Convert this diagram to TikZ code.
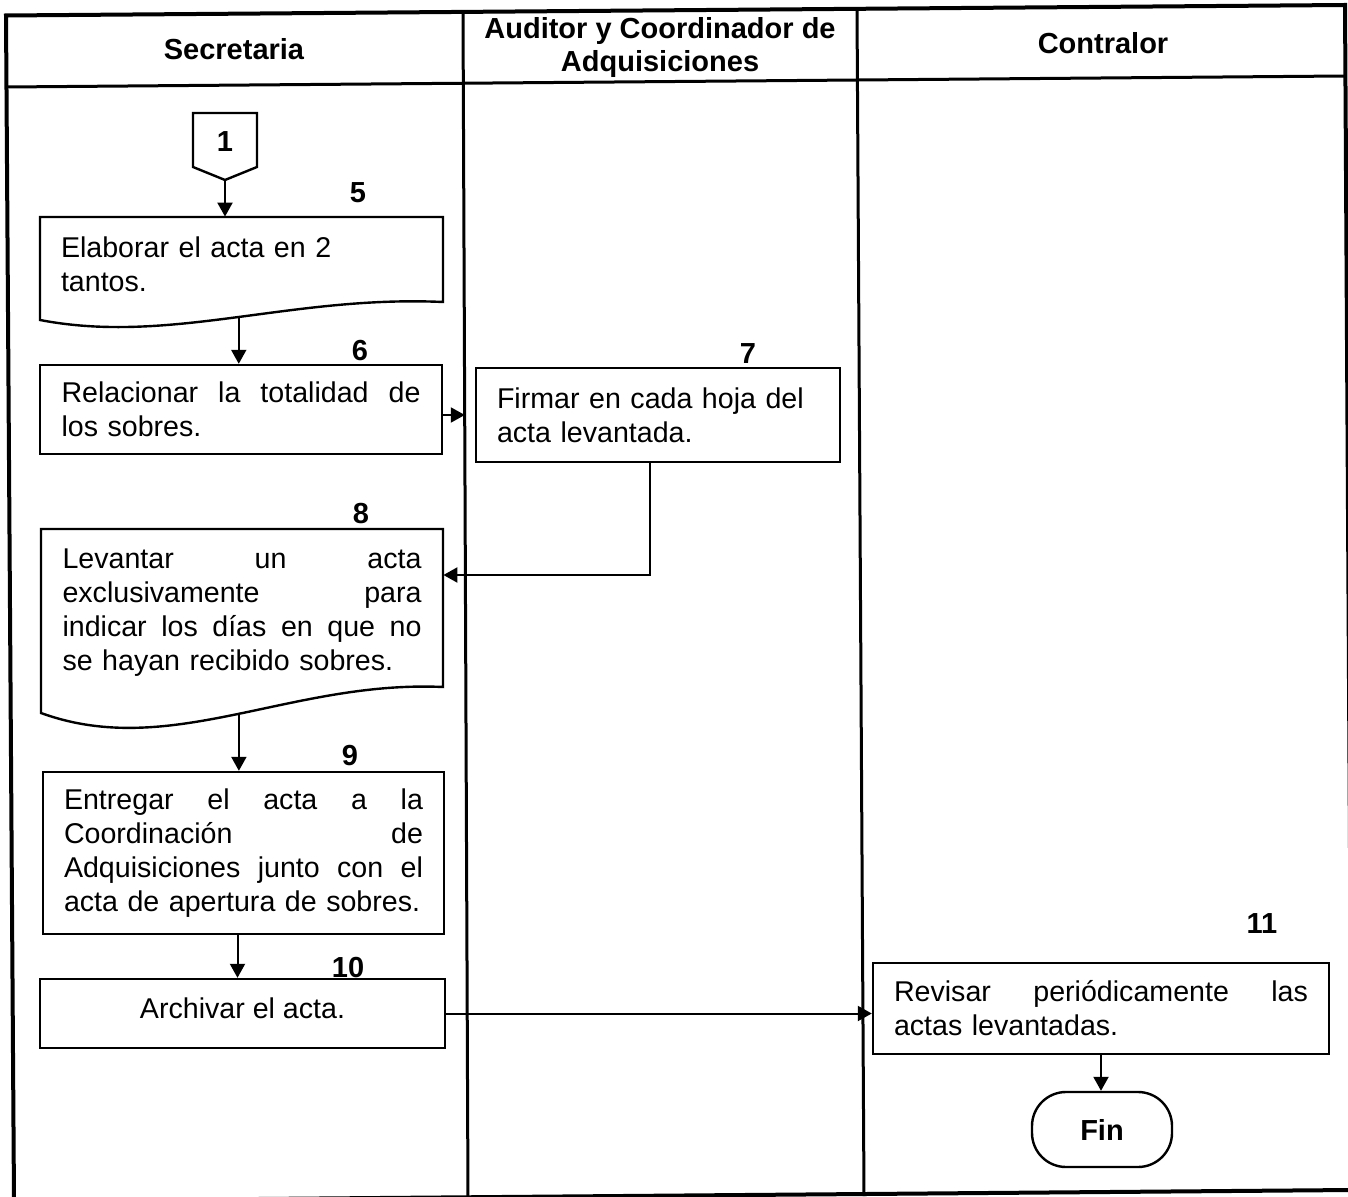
\documentclass[tikz,border=0pt]{standalone}
\usepackage{fontspec}
\setmainfont{Liberation Sans}
\usetikzlibrary{arrows.meta}

% one line of text stretched to a given width (justified line)
\newcommand{\jline}[2]{\leavevmode\hbox to #1{\spaceskip=0.25em plus 10em\relax #2}}

\begin{document}
\begin{tikzpicture}[x=0.5pt,y=-0.5pt,
  every node/.style={font=\fontsize{14.3pt}{17pt}\selectfont, inner sep=0pt},
  frame/.style={line width=2pt},
  lane/.style={line width=1.5pt},
  box/.style={draw, line width=1.2pt, align=left},
  docbox/.style={align=left},
  shapeline/.style={line width=1.2pt, line join=miter},
  head/.style={font=\fontsize{14.5pt}{16.5pt}\selectfont\bfseries, align=center},
  num/.style={font=\fontsize{14.5pt}{17pt}\selectfont\bfseries},
  arr/.style={line width=1pt, -{Triangle[length=7pt,width=7.5pt]}},
  term/.style={draw, line width=1.2pt, rounded corners=17pt,
    minimum width=70pt, minimum height=37.5pt,
    font=\fontsize{14.5pt}{17pt}\selectfont\bfseries}
]
\clip (0,0) rectangle (1348,1197);

% ---- swimlane frame ----
\draw[frame] (6,15.5) -- (1345,5) -- (1352,1190) -- (14,1201) -- cycle;
\draw[lane] (7,87) -- (1345,76);
\draw[lane] (463,12) -- (468,1200);
\draw[lane] (857,9) -- (864,1196);

\node[head] (h1) at (234,49) {Secretaria};
\node[head] (h2) at (660,47.5) {Auditor y Coordinador de\\Adquisiciones};
\node[head] (h3) at (1103,43) {Contralor};

% ---- off-page connector 1 ----
\node[num] (c1) at (225,142) {1};
\draw[shapeline] (193,113) -- (257,113) -- (257,167) -- (225,180)
  coordinate (c1tip) -- (193,167) -- cycle;

% ---- step 5 (document) ----
\node[docbox, text width=180.5pt, minimum width=201.5pt, minimum height=47pt]
  (b5) at (241.5,264) {Elaborar el acta en 2\\tantos.};
\draw[shapeline] (40,217) -- (443,217) -- (443,302)
  .. controls (290,295) and (170,345) .. coordinate[pos=0.485] (b5w) (40,320) -- cycle;
\node[num] (l5) at (358,193) {5};

% ---- step 6 ----
\node[box, text width=179.5pt, minimum width=201pt, minimum height=44.5pt]
  (b6) at (241,409.5) {\jline{179.5pt}{Relacionar la totalidad de}\\los sobres.};
\node[num] (l6) at (360,351) {6};

% ---- step 7 ----
\node[box, text width=161pt, minimum width=182pt, minimum height=47pt]
  (b7) at (658,415) {Firmar en cada hoja del\\acta levantada.};
\node[num] (l7) at (748,354) {7};

% ---- step 8 (document) ----
\node[docbox, text width=179.5pt, minimum width=201pt, minimum height=80pt]
  (b8) at (242,613) {\jline{179.5pt}{Levantar un acta}\\\jline{179.5pt}{exclusivamente para}\\
    \jline{179.5pt}{indicar los días en que no}\\se hayan recibido sobres.};
\draw[shapeline] (41,529) -- (443,529) -- (443,687)
  .. controls (290,680) and (170,760) .. coordinate[pos=0.485] (b8w) (41,713) -- cycle;
\node[num] (l8) at (361,514) {8};

% ---- step 9 ----
\node[box, text width=179.5pt, minimum width=200.5pt, minimum height=81pt]
  (b9) at (243.5,853) {\jline{179.5pt}{Entregar el acta a la}\\\jline{179.5pt}{Coordinación de}\\
    \jline{179.5pt}{Adquisiciones junto con el}\\acta de apertura de sobres.};
\node[num] (l9) at (350,756) {9};

% ---- step 10 ----
\node[draw, line width=1.2pt, minimum width=202.5pt, minimum height=34.5pt, text depth=5.5pt]
  (b10) at (242.5,1013.5) {Archivar el acta.};
\node[num] (l10) at (348,968) {10};

% ---- step 11 ----
\node[box, text width=207pt, minimum width=228pt, minimum height=45.5pt]
  (b11) at (1101,1008.5) {\jline{207pt}{Revisar periódicamente las}\\actas levantadas.};
\node[num] (l11) at (1262,924) {11};

% ---- end ----
\node[term] (fin) at (1102,1129.5) {Fin};

% ---- connectors ----
\draw[arr] (c1tip) -- (c1tip |- b5.north);
\draw[arr] (b5w) -- (b5w |- b6.north);
\draw[arr, shorten >=5pt] (b6.east |- b7.west) -- (b7.west);
\draw[arr] ([xshift=-4pt]b7.south) |- ([yshift=19pt]b8.east);
\draw[arr] (b8w) -- (b8w |- b9.north);
\draw[arr] ([xshift=-3pt]b9.south) -- ([xshift=-3pt]b9.south |- b10.north);
\draw[arr] (b10.east) -- (b10.east -| b11.west);
\draw[arr] (b11.south) -- (b11.south |- fin.north);
\end{tikzpicture}
\end{document}
